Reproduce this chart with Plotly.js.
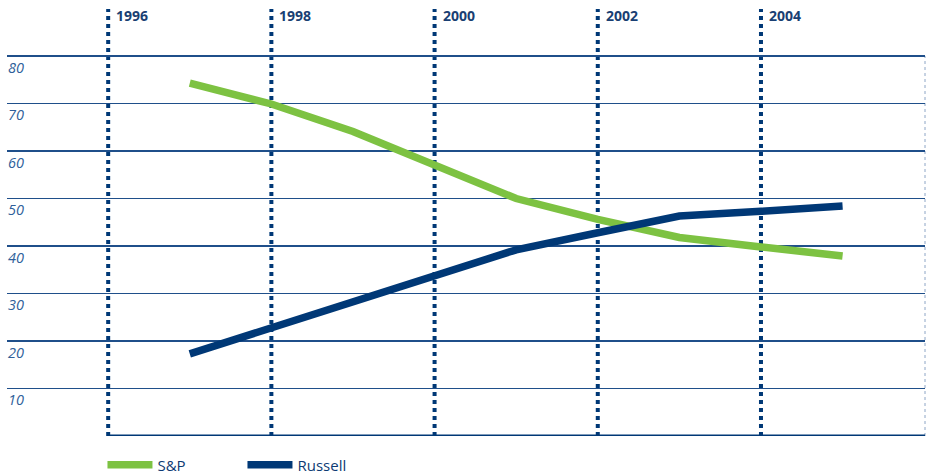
<!DOCTYPE html>
<html>
<head>
<meta charset="utf-8">
<script src="https://cdn.plot.ly/plotly-3.0.1.min.js"></script>
<style>html,body{margin:0;padding:0;background:#fff;}#chart{width:926px;height:475px;}</style>
</head>
<body>
<div id="chart"></div>
<script>
// Data
const years = [1997, 1998, 1999, 2000, 2001, 2002, 2003, 2004, 2005];
const spValues = [74.3, 69.9, 64.1, 57.0, 50.0, 45.6, 41.8, 39.8, 37.9];
const russellValues = [17.3, 22.7, 28.2, 33.9, 39.2, 42.8, 46.3, 47.3, 48.4];
const yearTicks = [1996, 1998, 2000, 2002, 2004];
const yearLabels = ['1996', '1998', '2000', '2002', '2004'];
const yTicks = [10, 20, 30, 40, 50, 60, 70, 80];
const yLabels = ['10', '20', '30', '40', '50', '60', '70', '80'];

const navy = '#003876';
const green = '#7dc242';
const gridNavy = '#1f4f8a';

const traces = [
  {x: years, y: spValues, name: 'S&P', type: 'scatter', mode: 'lines',
   line: {color: green, width: 7.5}},
  {x: years, y: russellValues, name: 'Russell', type: 'scatter', mode: 'lines',
   line: {color: navy, width: 7.5}}
];

const shapes = [];
yearTicks.forEach(function (yr) {
  shapes.push({type: 'line', xref: 'x', yref: 'paper', x0: yr, x1: yr, y0: 0, y1: 1,
    line: {color: navy, width: 4, dash: '4px,4px'}, layer: 'below'});
});
shapes.push({type: 'line', xref: 'x', yref: 'y', x0: yearTicks[0], x1: 2006.1, y0: 0, y1: 0,
  line: {color: navy, width: 3}, layer: 'above'});
shapes.push({type: 'line', xref: 'paper', yref: 'y', x0: 1, x1: 1, y0: 0, y1: 80,
  line: {color: '#8ea6c6', width: 1, dash: 'dot'}, layer: 'below'});

const annotations = [];
yTicks.forEach(function (v, i) {
  annotations.push({xref: 'paper', yref: 'y', x: 0, y: v, text: yLabels[i],
    xanchor: 'left', yanchor: 'middle', yshift: -11, xshift: -1, showarrow: false,
    font: {family: 'Open Sans, sans-serif', size: 14.5, color: '#2f5f9a', style: 'italic'}});
});
yearTicks.forEach(function (yr, i) {
  annotations.push({xref: 'x', yref: 'paper', x: yr, y: 1, text: '<b>' + yearLabels[i] + '</b>',
    xanchor: 'left', yanchor: 'middle', xshift: 6, yshift: -6, showarrow: false,
    font: {family: 'Open Sans, sans-serif', size: 14, color: '#1a3f73'}});
});

const layout = {
  width: 926, height: 475,
  margin: {l: 7, r: 1, t: 9, b: 39, pad: 0, autoexpand: false},
  paper_bgcolor: '#ffffff', plot_bgcolor: '#ffffff',
  showlegend: true,
  legend: {orientation: 'h', x: 0.104, xanchor: 'left', y: -0.068, yanchor: 'middle',
    font: {family: 'Open Sans, sans-serif', size: 15, color: '#0d3a73'},
    itemwidth: 45, entrywidth: 80, bgcolor: 'rgba(0,0,0,0)', borderwidth: 0},
  xaxis: {range: [1994.76, 2006.01], showgrid: false, zeroline: false, showticklabels: false,
    showline: false, ticks: '', fixedrange: true},
  yaxis: {range: [0, 89.9], tickvals: yTicks, showgrid: true, gridcolor: gridNavy, gridwidth: 1.5,
    zeroline: false, showticklabels: false, showline: false, ticks: '', fixedrange: true},
  shapes: shapes,
  annotations: annotations
};

Plotly.newPlot('chart', traces, layout, {displayModeBar: false, staticPlot: true});
</script>
</body>
</html>
